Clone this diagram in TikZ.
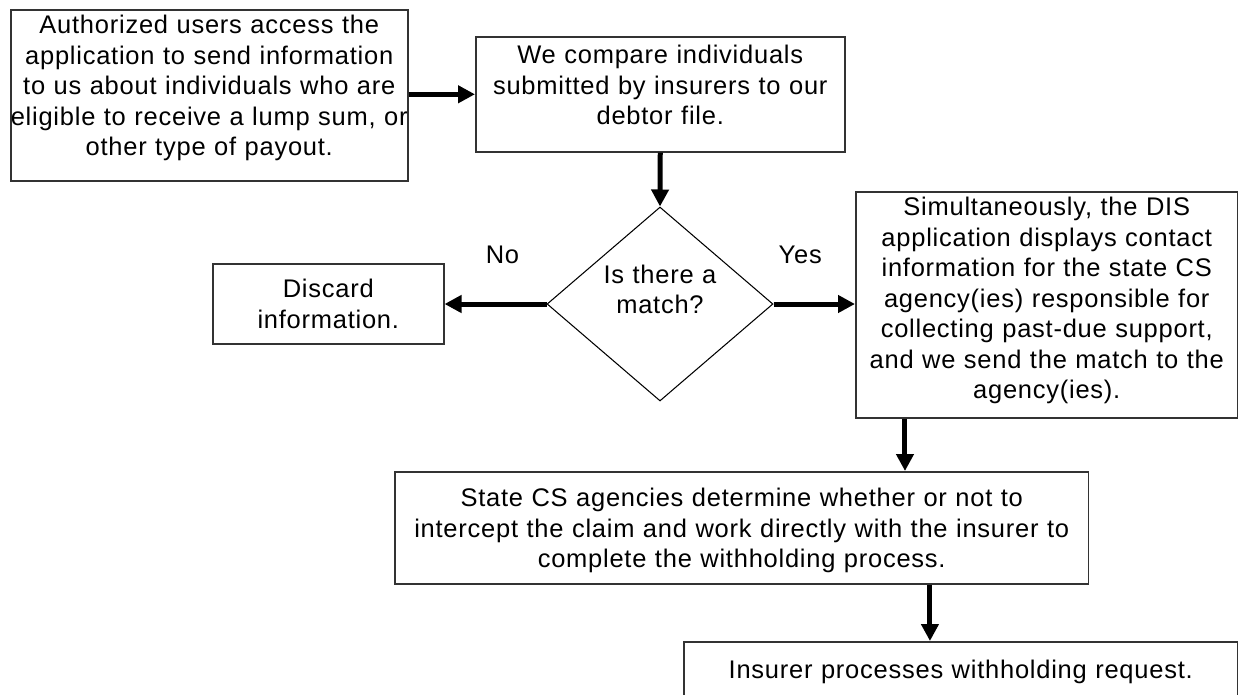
\documentclass[tikz,border=0pt]{standalone}
\usepackage{fontspec}
\setmainfont{Liberation Sans}[LetterSpace=3]
\usetikzlibrary{shapes.geometric, arrows.meta}

\begin{document}
\begin{tikzpicture}[x=0.02cm, y=-0.02cm,
  every node/.style={font=\fontsize{14.5pt}{17.36pt}\selectfont},
  stepbox/.style={draw=black!80, line width=0.9pt, anchor=north west, align=center, inner sep=0pt},
  choice/.style={diamond, draw, line width=0.6pt, inner sep=0pt, align=center,
    minimum width=4.52cm, minimum height=3.88cm},
  flow/.style={-{Triangle[length=0.34cm, width=0.34cm]}, line width=0.1cm},
  answer/.style={inner sep=0pt}]
  \useasboundingbox (0,0) rectangle (1238,694);
  \node[stepbox, text width=7.94cm, text height=0.48cm, text depth=2.94cm] (auth) at (10,9)
    {Authorized users access the\\ application to send information\\ to us about individuals who are\\
     \makebox[\linewidth]{eligible to receive a lump sum, or}\\ other type of payout.};
  \node[stepbox, text width=7.38cm, text height=0.54cm, text depth=1.76cm] (cmp) at (475,36)
    {We compare individuals\\ submitted by insurers to our\\ debtor file.};
  \node[choice, text width=2.6cm, text height=0pt, text depth=0.84cm] (match) at (660,304)
    {Is there a\\ match?};
  \node[stepbox, text width=4.62cm, text height=0.68cm, text depth=0.92cm] (discard) at (212,263)
    {Discard\\ information.};
  \node[stepbox, text width=7.64cm, text height=0.48cm, text depth=4.04cm] (simul) at (855,191)
    {Simultaneously, the DIS\\ application displays contact\\ information for the state CS\\
     agency(ies) responsible for\\ collecting past-due support,\\ and we send the match to the\\ agency(ies).};
  \node[stepbox, text width=13.88cm, text height=0.7cm, text depth=1.54cm] (cs) at (394,471)
    {State CS agencies determine whether or not to\\ intercept the claim and work directly with the insurer to\\
     complete the withholding process.};
  \node[stepbox, text width=11.08cm, text height=0.74cm, text depth=1.06cm] (proc) at (683,641)
    {Insurer processes withholding request.};

  \draw[flow] (cmp.west -| auth.east) -- (cmp.west);
  \draw[flow] (cmp.south) -- (match.north);
  \draw[flow] (match.west) -- node[answer, midway, above=0.76cm, xshift=0.14cm] {No} (discard.east |- match.west);
  \draw[flow] (match.east) -- node[answer, midway, above=0.76cm, xshift=-0.28cm] {Yes} (simul.west |- match.east);
  \draw[flow] ([xshift=1cm]simul.south west) -- ([xshift=1cm]simul.south west |- cs.north);
  \draw[flow] ([xshift=4.94cm]proc.north west |- cs.south) -- ([xshift=4.94cm]proc.north west);
\end{tikzpicture}
\end{document}
